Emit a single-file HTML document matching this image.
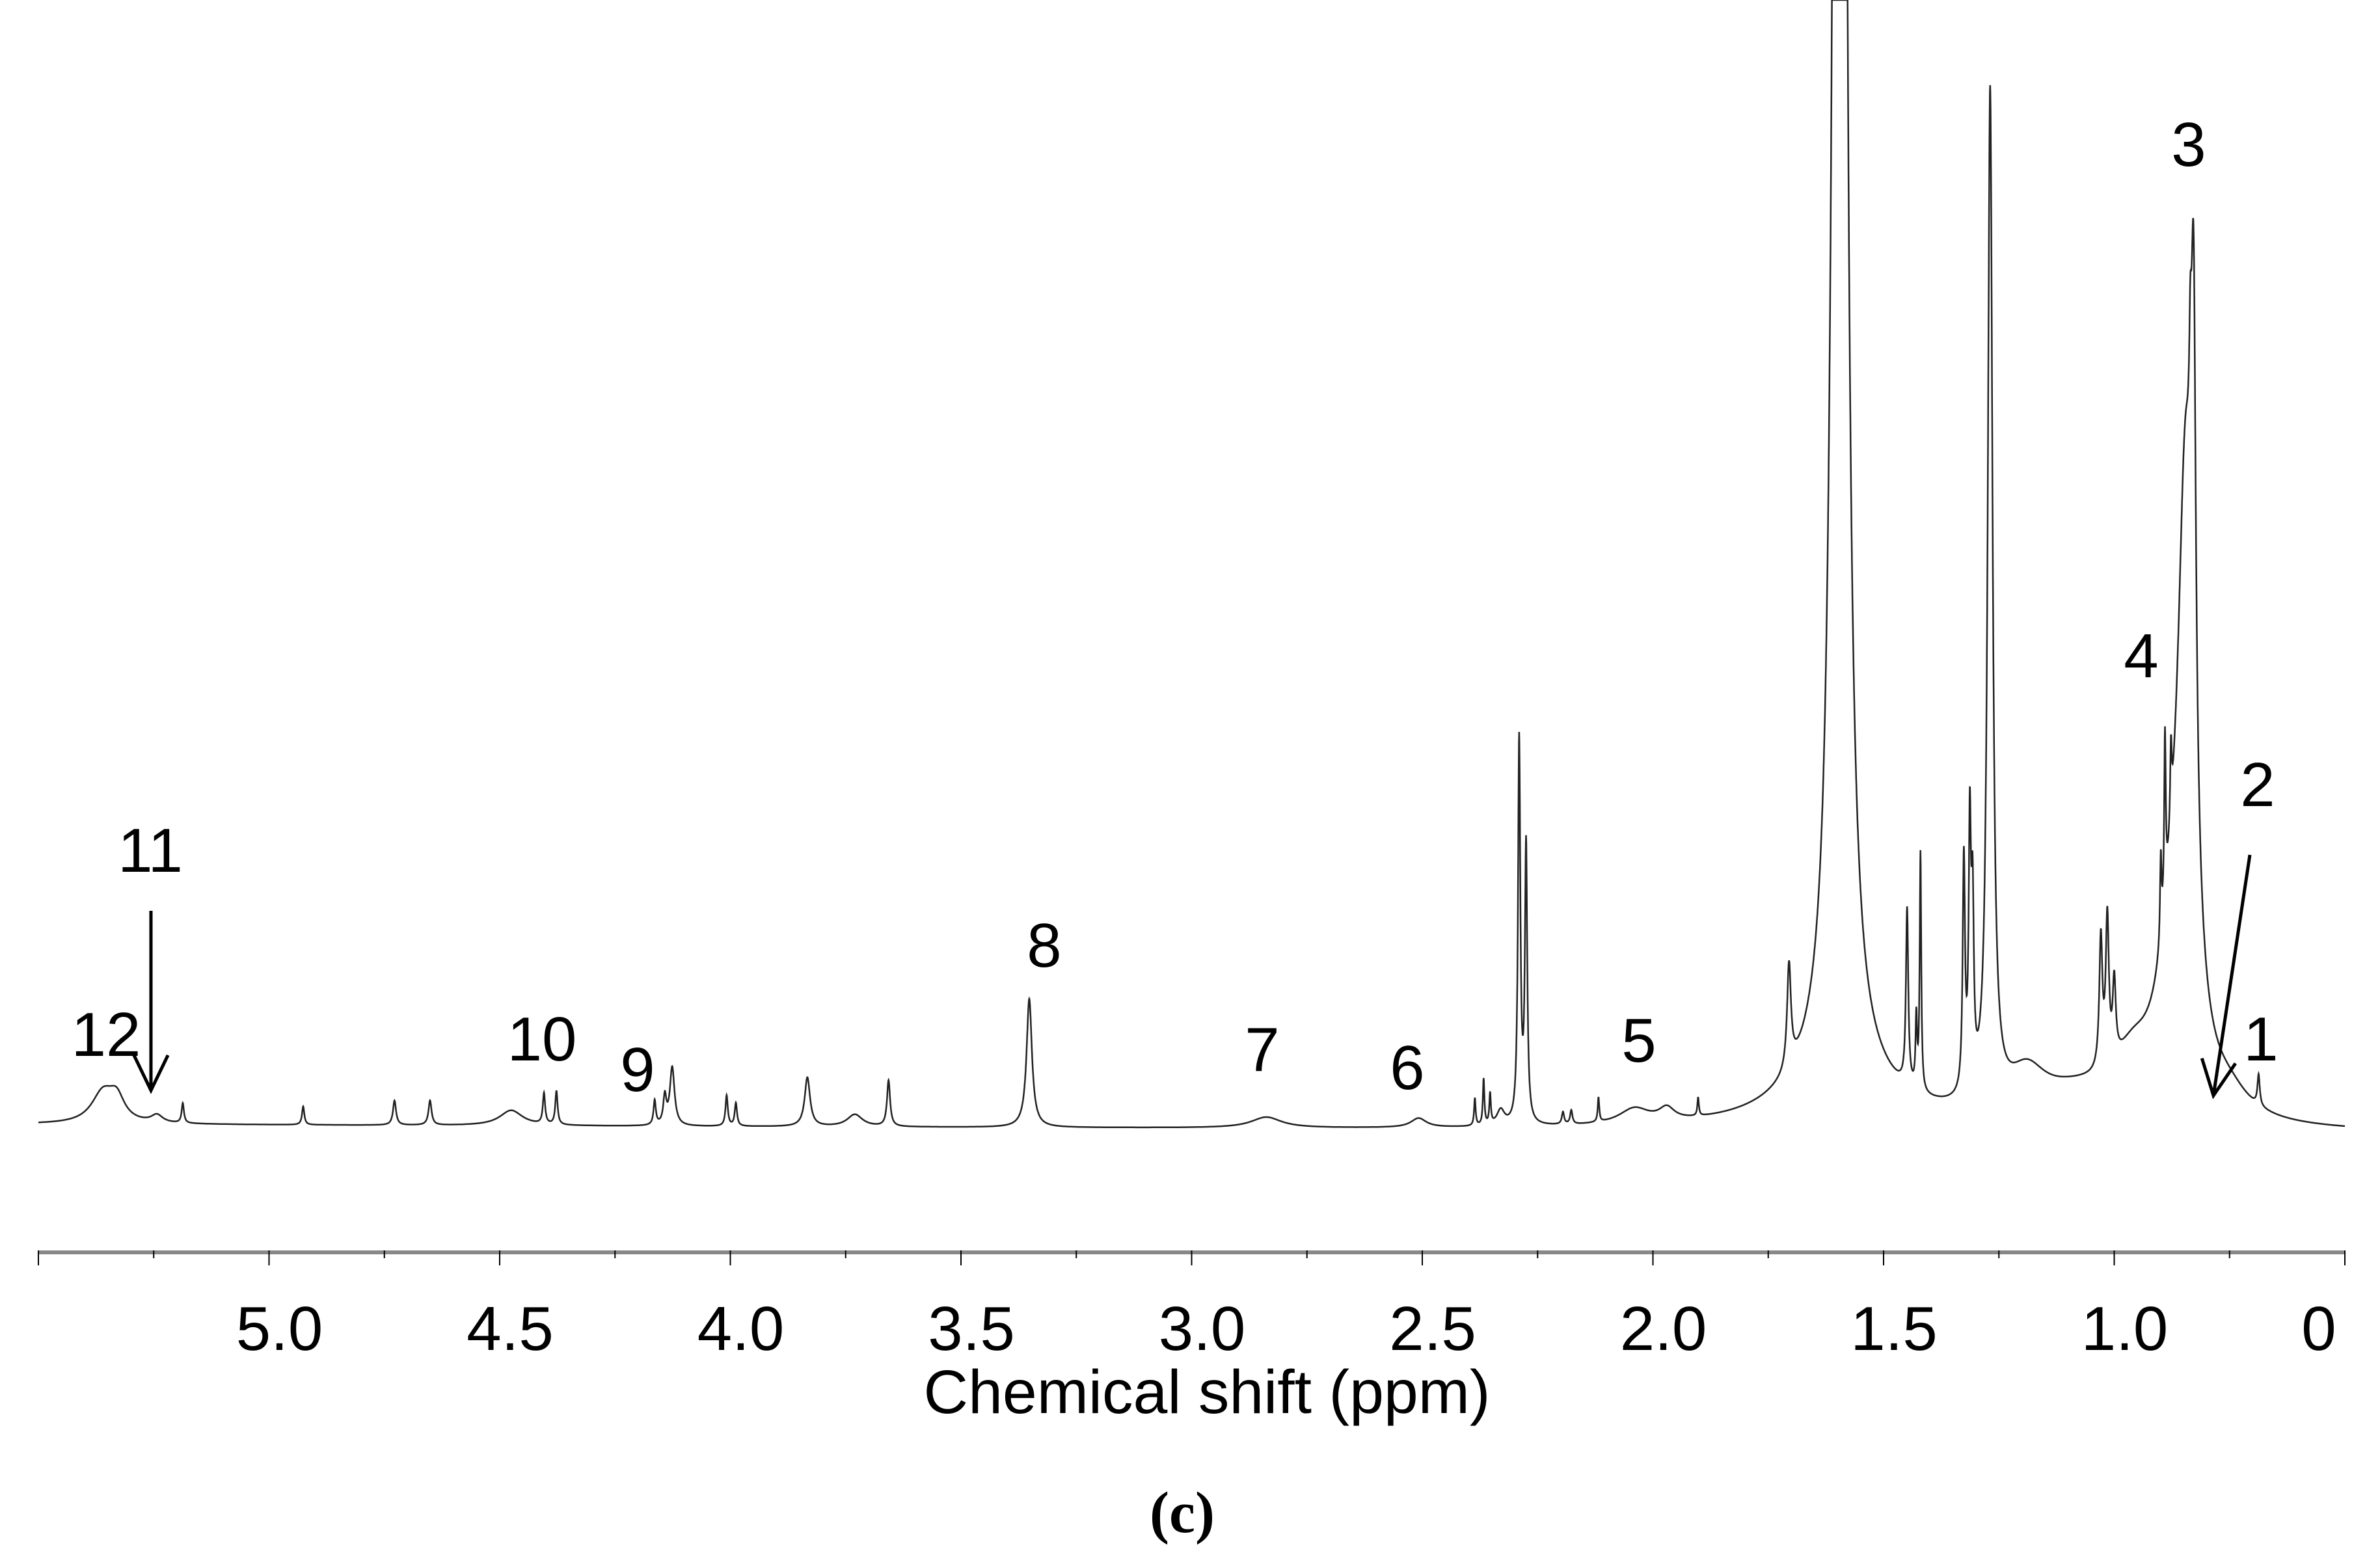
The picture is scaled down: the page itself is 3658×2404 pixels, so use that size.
<!DOCTYPE html>
<html><head><meta charset="utf-8"><style>
html,body{margin:0;padding:0;background:#fff;}
svg{display:block;}
text{font-family:"Liberation Sans",sans-serif;fill:#000;}
</style></head><body>
<svg id="chart" width="3658" height="2404" viewBox="0 0 3658 2404" xmlns="http://www.w3.org/2000/svg">
<g id="plot"></g>
<g id="axis"></g>
<text x="1855" y="2172" font-size="95" text-anchor="middle">Chemical shift (ppm)</text>
<text x="1817" y="2355" font-size="90" font-weight="bold" text-anchor="middle" style="font-family:'Liberation Serif',serif">(c)</text>
<g id="annot"></g>
</svg>
<script>
// peak positions (ppm), heights (intensity units), half-widths (ppm)
const peakPpm = [5.36,5.33,5.243,5.187,4.926,4.728,4.651,4.475,4.404,4.377,4.164,4.142,4.126,4.008,3.988,3.833,3.73,3.657,3.352,2.838,2.508,2.386,2.367,2.353,2.33,2.29,2.275,2.195,2.177,2.118,2.04,1.97,1.902,1.705,1.595,1.60,1.449,1.429,1.42,1.326,1.313,1.307,1.269,1.19,1.08,0.96,1.029,1.015,1.0,0.899,0.89,0.877,0.87,0.845,0.828,0.835,0.75,0.687];
const peakHeight = [20,14,5,13,12,16,16,10,20,22,16,18,38,20,15,32,8,30,84,7,6,18,30,20,10,250,180,8,9,16,10,8,12,68,3000,35,115,45,155,150,165,110,660,25,18,28,85,95,50,55,110,50,90,350,320,80,12,20];
const peakWidth = [0.03,0.02,0.015,0.003,0.003,0.004,0.004,0.03,0.003,0.003,0.003,0.004,0.006,0.003,0.003,0.007,0.02,0.004,0.007,0.04,0.02,0.002,0.002,0.002,0.01,0.003,0.003,0.003,0.003,0.002,0.04,0.02,0.002,0.005,0.0094,0.12,0.003,0.002,0.002,0.003,0.003,0.003,0.0062,0.05,0.12,0.05,0.004,0.004,0.004,0.002,0.002,0.002,0.04,0.02,0.006,0.003,0.05,0.003];
const tickLabels = ["5.0","4.5","4.0","3.5","3.0","2.5","2.0","1.5","1.0","0"];
const tickValues = [5.0,4.5,4.0,3.5,3.0,2.5,2.0,1.5,1.0,0.5];

const NS="http://www.w3.org/2000/svg";
const X0=59, X1=3604, P0=5.5, P1=0.5;
const xScale = p => X0 + (P0-p)*(X1-X0)/(P0-P1);
const K=2.354;
const baseAt = x => 1728 + (x-X0)/(X1-X0)*14;
const yScale = (v,x) => baseAt(x) - K*v;

function intensity(p){
  let s=0;
  for(let i=0;i<peakPpm.length;i++){
    const d=(p-peakPpm[i])/peakWidth[i];
    s+=peakHeight[i]/(1+d*d);
  }
  return s;
}
let d="";
for(let p=P0;p>=P1;p-=0.0005){
  const x=xScale(p), y=Math.max(0,yScale(intensity(p),x));
  d+=(d?"L":"M")+x.toFixed(1)+","+y.toFixed(1);
}
const path=document.createElementNS(NS,"path");


path.setAttribute("d",d);
path.setAttribute("fill","none");
path.setAttribute("stroke","#222");
path.setAttribute("stroke-width","2.5");
document.getElementById("plot").appendChild(path);

// axis
const ax=document.getElementById("axis");
const line=document.createElementNS(NS,"line");


line.setAttribute("x1",X0);line.setAttribute("x2",X1);
line.setAttribute("y1",1925);line.setAttribute("y2",1925);
line.setAttribute("stroke","#888");line.setAttribute("stroke-width","6");
ax.appendChild(line);
for(let i=0;i<=20;i++){
  const p=P0-i*0.25;
  const t=document.createElementNS(NS,"line");
  
  
  const x=xScale(p);
  t.setAttribute("x1",x);t.setAttribute("x2",x);
  t.setAttribute("y1",1922);t.setAttribute("y2",i%2===0?1945:1934);
  t.setAttribute("stroke","#000");t.setAttribute("stroke-width","2");
  ax.appendChild(t);
}
tickLabels.forEach((lab,i)=>{
  const t=document.createElementNS(NS,"text");
  
  
  let x=xScale(tickValues[i])+16;
  if(i===tickLabels.length-1) x=xScale(tickValues[i])-40;
  t.setAttribute("x",x);t.setAttribute("y",2075);
  t.setAttribute("font-size","96");t.setAttribute("text-anchor","middle");
  t.textContent=lab;
  ax.appendChild(t);
});

// annotations
const annLabels=["12","11","10","9","8","7","6","5","4","3","2","1"];
const annX=[163,231,833,980,1605,1940,2163,2519,3291,3364,3470,3475];
const annY=[1623,1340,1630,1677,1486,1646,1674,1632,1041,255,1239,1630];
const an=document.getElementById("annot");
annLabels.forEach((lab,i)=>{
  const t=document.createElementNS(NS,"text");
  
  
  t.setAttribute("x",annX[i]);t.setAttribute("y",annY[i]);
  t.setAttribute("font-size","96");t.setAttribute("text-anchor","middle");
  t.textContent=lab;
  an.appendChild(t);
});
function arrow(x1,y1,x2,y2,name){
  const g=document.createElementNS(NS,"g");
  
  
  const ang=Math.atan2(y2-y1,x2-x1), L=60, a=0.45;
  const pts=`M${x1},${y1}L${x2},${y2}M${x2-L*Math.cos(ang-a)},${y2-L*Math.sin(ang-a)}L${x2},${y2}L${x2-L*Math.cos(ang+a)},${y2-L*Math.sin(ang+a)}`;
  const p=document.createElementNS(NS,"path");
  p.setAttribute("d",pts);p.setAttribute("fill","none");
  p.setAttribute("stroke","#000");p.setAttribute("stroke-width","5");
  g.appendChild(p);an.appendChild(g);
}
arrow(232,1400,232,1676,"arrow-11");
arrow(3458,1314,3402,1684,"arrow-2");
</script>
</body></html>
